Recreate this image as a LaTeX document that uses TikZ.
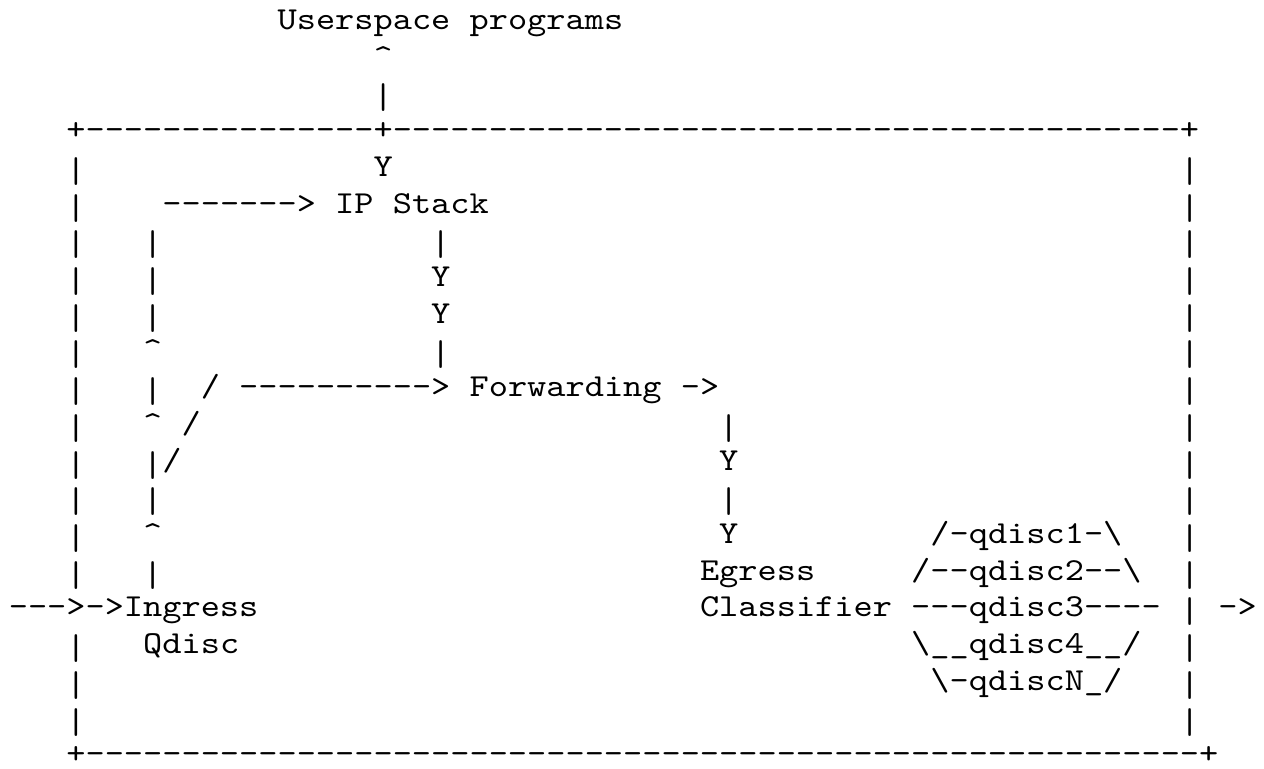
\documentclass[tikz,border=0pt]{standalone}
\usepackage{graphicx}
\usepackage{fontspec}
\setmonofont{lmmono10-regular.otf}[FakeStretch=1.142857]
\tikzset{asc/.style={inner sep=0pt, outer sep=0pt, anchor=base west,
  font=\fontsize{16pt}{18pt}\selectfont\ttfamily}}
\newcommand\asciitxt[4]{\node[asc] (#1) at ({8.8+19.2*#2},{29.4+36.72*#3}) {#4};}
\newcommand\dsh[1]{\foreach\k in {1,...,#1}{-}}
\newcommand\crt{\textasciicircum}
\newcommand\vb{\raisebox{-3pt}[0.6em][0pt]{\scalebox{1}[1.12]{|}}}
\begin{document}
\begin{tikzpicture}[x=0.5pt,y=-0.5pt]
\useasboundingbox (0,0) rectangle (1264,768);
% row 0-2: userspace
\asciitxt{u1}{14}{0}{Userspace}
\asciitxt{u2}{24}{0}{programs}
\asciitxt{up1}{19}{1}{\crt}
\asciitxt{up2}{19}{2}{\vb}
% borders
\asciitxt{top}{3}{3}{+\dsh{15}+\dsh{41}+}
\asciitxt{bot}{3}{20}{\raisebox{0pt}[\height][0pt]{+\dsh{58}+}}
\foreach \r in {4,...,15,17,18,19}{
  \asciitxt{L\r}{3}{\r}{\vb}
  \asciitxt{R\r}{61}{\r}{\vb}
}
% IP stack path
\asciitxt{y1}{19}{4}{Y}
\asciitxt{a5}{8}{5}{\dsh{7}>}
\asciitxt{ip1}{17}{5}{IP}
\asciitxt{ip2}{20}{5}{Stack}
\asciitxt{c6}{22}{6}{\vb}
\asciitxt{c7}{22}{7}{Y}
\asciitxt{c8}{22}{8}{Y}
\asciitxt{c9}{22}{9}{\vb}
% inner left column
\asciitxt{i6}{7}{6}{\vb}
\asciitxt{i7}{7}{7}{\vb}
\asciitxt{i8}{7}{8}{\vb}
\asciitxt{i9}{7}{9}{\crt}
\asciitxt{i10}{7}{10}{\vb}
\asciitxt{i11}{7}{11}{\crt}
\asciitxt{i12}{7}{12}{\vb/}
\asciitxt{i13}{7}{13}{\vb}
\asciitxt{i14}{7}{14}{\crt}
\asciitxt{i15}{7}{15}{\vb}
% forwarding
\asciitxt{s10}{10}{10}{/}
\asciitxt{a10}{12}{10}{\dsh{10}>}
\asciitxt{fw}{24}{10}{Forwarding}
\asciitxt{fa}{35}{10}{->}
\asciitxt{s11}{9}{11}{/}
\asciitxt{e11}{37}{11}{\vb}
\asciitxt{e12}{37}{12}{Y}
\asciitxt{e13}{37}{13}{\vb}
\asciitxt{e14}{37}{14}{Y}
% egress
\asciitxt{eg}{36}{15}{Egress}
\asciitxt{cl}{36}{16}{Classifier}
\asciitxt{q1}{48}{14}{/-qdisc1-\textbackslash}
\asciitxt{q2}{47}{15}{/--qdisc2--\textbackslash}
\asciitxt{q3}{47}{16}{---qdisc3----}
\asciitxt{q4}{47}{17}{\textbackslash\_\_qdisc4\_\_/}
\asciitxt{qN}{48}{18}{\textbackslash-qdiscN\_/}
\asciitxt{w16}{61}{16}{\vb}
\asciitxt{out}{63}{16}{->}
% ingress
\asciitxt{in}{0}{16}{--->->Ingress}
\asciitxt{qd}{7}{17}{Qdisc}
\end{tikzpicture}
\end{document}
